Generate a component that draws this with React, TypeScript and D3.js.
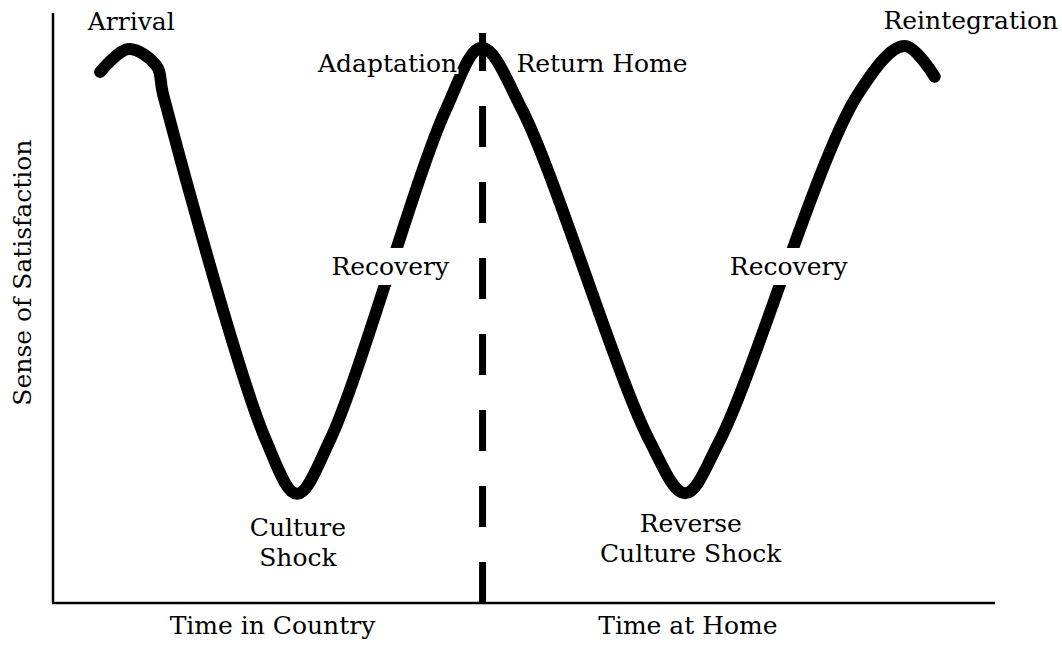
import React, { useRef, useEffect } from "react";
import * as d3 from "d3";

// W-curve of adjustment: time (0-100) vs sense of satisfaction (0-100)
const timeValues = [
  5.0, 8.0, 11.0, 11.7, 22.6, 25.9, 29.4, 41.7, 45.5, 49.8, 63.3, 67.1, 70.8,
  85.4, 90.4, 93.6,
];
const satisfactionValues = [
  90.0, 93.9, 91.0, 86.1, 27.6, 18.5, 27.6, 83.6, 94.1, 83.6, 27.6, 18.6, 27.6,
  86.1, 94.4, 89.2,
];

// where the stay abroad ends and the time at home starts
const returnTime = 45.6;

const phaseLabels = ["Arrival", "Adaptation", "Return Home", "Reintegration"];
const phaseTimes = [8.3, 42.9, 49.2, 106.7];
const phaseLevels = [97.1, 90.0, 90.0, 97.3];
const phaseAnchors = ["middle", "end", "start", "end"];

const recoveryLabels = ["Recovery", "Recovery"];
const recoveryTimes = [35.8, 78.1];
const recoveryLevel = 55.6;

const shockLabels = [["Culture", "Shock"], ["Reverse", "Culture Shock"]];
const shockTimes = [26.0, 67.7];
const shockLevel = 11.4;

const axisLabels = ["Time in Country", "Time at Home"];
const axisLabelTimes = [23.3, 67.4];
const yTitle = "Sense of Satisfaction";

const W = 1062;
const H = 645;
const FONT = "'DejaVu Serif', serif";

const App = () => {
  const ref = useRef(null);

  useEffect(() => {
    document.body.style.margin = "0";
    if (!ref.current) return;
    const svg = d3.select(ref.current);
    svg.selectAll("*").remove();

    const x = d3.scaleLinear().domain([0, 100]).range([53, 995]);
    const y = d3.scaleLinear().domain([0, 100]).range([603, 13]);

    const points = timeValues.map((t, i) => [t, satisfactionValues[i]]);

    // axes (no ticks)
    svg
      .append("line")
      .attr("x1", x(0))
      .attr("x2", x(0))
      .attr("y1", y(0))
      .attr("y2", y(100))
      .attr("stroke", "#000")
      .attr("stroke-width", 2.5);
    svg
      .append("line")
      .attr("x1", x(0) - 1)
      .attr("x2", x(100))
      .attr("y1", y(0))
      .attr("y2", y(0))
      .attr("stroke", "#000")
      .attr("stroke-width", 2.5);

    // dashed divider
    svg
      .append("line")
      .attr("x1", x(returnTime))
      .attr("x2", x(returnTime))
      .attr("y1", y(0))
      .attr("y2", y(96.6))
      .attr("stroke", "#000")
      .attr("stroke-width", 7)
      .attr("stroke-dasharray", "41 35");

    // the curve
    const line = d3
      .line()
      .x((d) => x(d[0]))
      .y((d) => y(d[1]))
      .curve(d3.curveCatmullRom.alpha(0.5));
    svg
      .append("path")
      .attr("d", line(points))
      .attr("fill", "none")
      .attr("stroke", "#000")
      .attr("stroke-width", 12)
      .attr("stroke-linecap", "round")
      .attr("stroke-linejoin", "round");

    const text = (g) =>
      g
        .attr("font-family", FONT)
        .attr("font-size", 25)
        .attr("fill", "#000");

    // phase labels with a white halo
    svg
      .selectAll(".phase")
      .data(phaseLabels)
      .enter()
      .append("text")
      .attr("class", "phase")
      .attr("x", (d, i) => x(phaseTimes[i]))
      .attr("y", (d, i) => y(phaseLevels[i]))
      .attr("text-anchor", (d, i) => phaseAnchors[i])
      .attr("stroke", "#fff")
      .attr("stroke-width", 4)
      .attr("paint-order", "stroke")
      .text((d) => d)
      .call(text);

    // recovery labels sit on a white box that breaks the curve
    const rec = svg
      .selectAll(".rec")
      .data(recoveryLabels)
      .enter()
      .append("g")
      .attr("class", "rec");
    rec
      .append("rect")
      .attr("x", (d, i) => x(recoveryTimes[i]) - 64)
      .attr("y", y(recoveryLevel) - 27)
      .attr("width", 128)
      .attr("height", 37)
      .attr("fill", "#fff");
    rec
      .append("text")
      .attr("x", (d, i) => x(recoveryTimes[i]))
      .attr("y", y(recoveryLevel))
      .attr("text-anchor", "middle")
      .text((d) => d)
      .call(text);

    // shock labels (two lines)
    const shock = svg
      .selectAll(".shock")
      .data(shockLabels)
      .enter()
      .append("text")
      .attr("class", "shock")
      .attr("text-anchor", "middle")
      .call(text);
    shock
      .selectAll("tspan")
      .data((d, i) => d.map((s) => ({ s, i })))
      .enter()
      .append("tspan")
      .attr("x", (d) => x(shockTimes[d.i]))
      .attr("y", (d, j) => y(shockLevel) + j * 30 - (d.i === 1 ? 4 : 0))
      .text((d) => d.s);

    // axis titles
    svg
      .selectAll(".xt")
      .data(axisLabels)
      .enter()
      .append("text")
      .attr("class", "xt")
      .attr("x", (d, i) => x(axisLabelTimes[i]))
      .attr("y", y(0) + 31)
      .attr("text-anchor", "middle")
      .text((d) => d)
      .call(text);

    svg
      .append("text")
      .attr("transform", `translate(31, ${y(56)}) rotate(-90)`)
      .attr("text-anchor", "middle")
      .text(yTitle)
      .call(text);
  }, []);

  return (
    <svg
      ref={ref}
      width={W}
      height={H}
      style={{ display: "block", background: "#fff" }}
    />
  );
};

export default App;
